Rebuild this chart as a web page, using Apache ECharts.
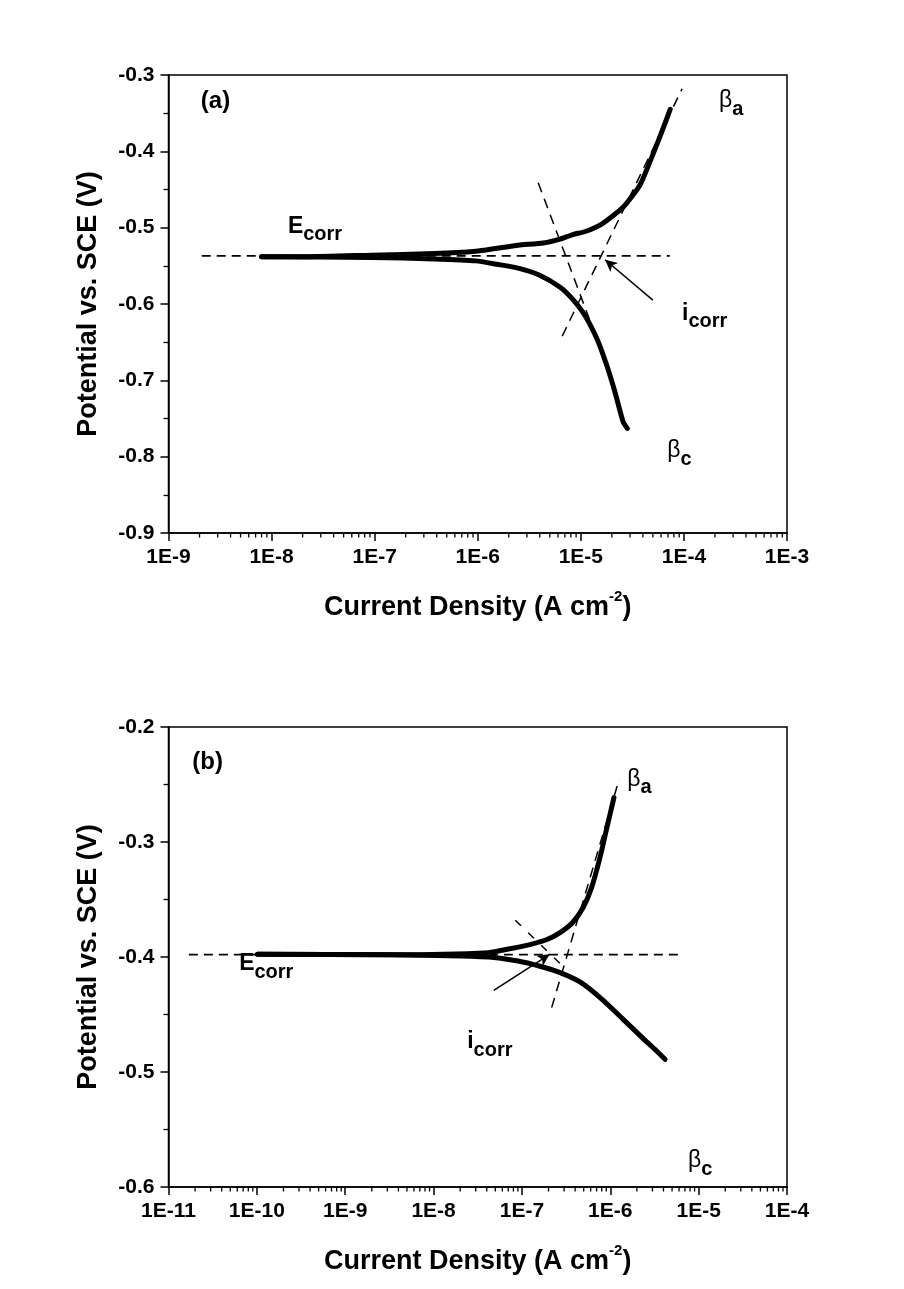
<!DOCTYPE html>
<html><head><meta charset="utf-8">
<script src="https://cdn.jsdelivr.net/npm/echarts@6/dist/echarts.min.js"></script>
<style>html,body{margin:0;padding:0;background:#fff}#c{width:904px;height:1289px}</style>
</head><body><div id="c"></div>
<script>
// ---------- Panel (a) data ----------
const aAnodicI = [8.0e-9, 2.25e-8, 9.2e-8, 3.77e-7, 9.6e-7, 1.54e-6, 2.47e-6, 4.33e-6, 6.3e-6, 8.36e-6, 1.107e-5, 1.61e-5, 2.58e-5, 3.75e-5, 4.97e-5, 6.28e-5, 7.36e-5];
const aAnodicV = [-0.538, -0.538, -0.536, -0.534, -0.531, -0.527, -0.523, -0.520, -0.515, -0.509, -0.505, -0.495, -0.473, -0.444, -0.405, -0.370, -0.345];
const aCathI = [8.0e-9, 9.2e-8, 3.77e-7, 9.6e-7, 1.54e-6, 2.47e-6, 3.94e-6, 6.3e-6, 8.36e-6, 1.107e-5, 1.46e-5, 1.77e-5, 2.14e-5, 2.58e-5, 2.83e-5];
const aCathV = [-0.538, -0.539, -0.541, -0.5435, -0.548, -0.553, -0.562, -0.578, -0.594, -0.616, -0.648, -0.679, -0.715, -0.755, -0.763];
const aEcorrI = [2.1e-9, 7.3e-5];
const aEcorrV = [-0.537, -0.537];
const aTafelCI = [3.86e-6, 1.27e-5];
const aTafelCV = [-0.4413, -0.6273];
const aTafelAI = [6.6e-6, 9.6e-5];
const aTafelAV = [-0.642, -0.318];
const aArrowI = [5.0e-5, 1.72e-5];   // tail -> head
const aArrowV = [-0.595, -0.542];
const aTicks = [1e-9, 1e-8, 1e-7, 1e-6, 1e-5, 1e-4, 1e-3];
const aYTicks = [-0.9, -0.8, -0.7, -0.6, -0.5, -0.4, -0.3];
const aLabelText = ['(a)', 'beta_a', 'E_corr', 'i_corr', 'beta_c'];
const aLabelI = [2.06e-9, 2.19e-4, 1.44e-8, 9.6e-5, 6.9e-5];
const aLabelV = [-0.334, -0.338, -0.503, -0.617, -0.797];

// ---------- Panel (b) data ----------
const bAnodicI = [1.02e-10, 3.4e-9, 4.2e-8, 7.3e-8, 1.26e-7, 1.95e-7, 2.7e-7, 3.75e-7, 4.93e-7, 6.14e-7, 7.64e-7, 9.0e-7, 1.1e-6];
const bAnodicV = [-0.3977, -0.398, -0.3962, -0.3928, -0.389, -0.3846, -0.3788, -0.370, -0.357, -0.3397, -0.3136, -0.290, -0.2614];
const bCathI = [1.02e-10, 3.4e-9, 4.2e-8, 9.0e-8, 1.56e-7, 2.7e-7, 4.68e-7, 8.07e-7, 1.40e-6, 2.41e-6, 3.35e-6, 4.17e-6];
const bCathV = [-0.3977, -0.398, -0.400, -0.4035, -0.4078, -0.4136, -0.4223, -0.4368, -0.4542, -0.4716, -0.4817, -0.489];
const bEcorrI = [1.7e-11, 6.1e-6];
const bEcorrV = [-0.398, -0.398];
const bTafelAI = [2.17e-7, 1.26e-6];
const bTafelAV = [-0.444, -0.2455];
const bTafelCI = [8.4e-8, 3.0e-7];
const bTafelCV = [-0.368, -0.409];
const bArrowI = [4.8e-8, 2.06e-7];
const bArrowV = [-0.429, -0.3977];
const bTicks = [1e-11, 1e-10, 1e-9, 1e-8, 1e-7, 1e-6, 1e-5, 1e-4];
const bYTicks = [-0.6, -0.5, -0.4, -0.3, -0.2];
const bLabelText = ['(b)', 'beta_a', 'E_corr', 'i_corr', 'beta_c'];
const bLabelI = [1.86e-11, 1.56e-6, 6.3e-11, 2.4e-8, 7.6e-6];
const bLabelV = [-0.231, -0.2484, -0.409, -0.477, -0.580];

const xName = 'Current Density (A cm';
const xNameSup = '-2';
const yName = 'Potential vs. SCE (V)';

// ---------- helpers ----------
const FF = "'Liberation Sans', Arial, Helvetica, sans-serif";
const zip = (xs, ys) => xs.map((x, i) => [x, ys[i]]);
function minorTicks(ticks) {
  const out = [];
  for (let i = 0; i < ticks.length - 1; i++) for (let k = 2; k <= 9; k++) out.push(ticks[i] * k);
  return out;
}
function labelFmt(t) {
  if (t === 'E_corr') return '{bm|E}{bs|corr}';
  if (t === 'i_corr') return '{bm|i}{bs|corr}';
  if (t === 'beta_a') return '{gm|β}{gs|a}';
  if (t === 'beta_c') return '{gm|β}{gs|c}';
  return '{p|' + t + '}';
}
const richLabels = {
  p: {fontSize: 24, fontWeight: 'bold', fontFamily: FF, color: '#000', opacity: 1},
  bm: {fontSize: 23, fontWeight: 'bold', fontFamily: FF, color: '#000', opacity: 1, lineHeight: 23, verticalAlign: 'top'},
  bs: {fontSize: 20, fontWeight: 'bold', fontFamily: FF, color: '#000', opacity: 1, lineHeight: 30, verticalAlign: 'bottom'},
  gm: {fontSize: 23, fontFamily: FF, color: '#000', opacity: 1, lineHeight: 23, verticalAlign: 'top'},
  gs: {fontSize: 20, fontWeight: 'bold', fontFamily: FF, color: '#000', opacity: 1, lineHeight: 30, verticalAlign: 'bottom'}
};

function xAxisOpt(gi, ticks) {
  return {
    type: 'log', logBase: 10, gridIndex: gi,
    min: ticks[0], max: ticks[ticks.length - 1], interval: 1,
    name: '{n|' + xName + '}{s|' + xNameSup + '}{n|)}',
    nameLocation: 'middle', nameGap: 56,
    nameTextStyle: {color: '#000', rich: {
      n: {fontSize: 27, fontWeight: 'bold', fontFamily: FF, color: '#000', lineHeight: 32, verticalAlign: 'bottom'},
      s: {fontSize: 15, fontWeight: 'bold', fontFamily: FF, color: '#000', lineHeight: 14, verticalAlign: 'top'}
    }},
    axisLine: {onZero: false, lineStyle: {color: '#000', width: 1.5}},
    axisTick: {length: 8, lineStyle: {color: '#000', width: 1.5}},
    minorTick: {show: false},
    splitLine: {show: false},
    axisLabel: {fontSize: 21, fontWeight: 'bold', fontFamily: FF, color: '#000', margin: 14,
      formatter: v => '1E' + Math.round(Math.log10(v))}
  };
}
function yAxisOpt(gi, ticks) {
  return {
    type: 'value', gridIndex: gi,
    min: ticks[0], max: ticks[ticks.length - 1], interval: 0.1,
    name: yName, nameLocation: 'middle', nameGap: 66,
    nameTextStyle: {fontSize: 27, fontWeight: 'bold', fontFamily: FF, color: '#000'},
    axisLine: {onZero: false, lineStyle: {color: '#000', width: 1.5}},
    axisTick: {length: 8, lineStyle: {color: '#000', width: 1.5}},
    minorTick: {show: true, splitNumber: 2, length: 5, lineStyle: {color: '#000', width: 1.3}},
    splitLine: {show: false},
    axisLabel: {fontSize: 21, fontWeight: 'bold', fontFamily: FF, color: '#000', margin: 14,
      formatter: v => v.toFixed(1)}
  };
}
function lineS(gi, data, width, dash, z) {
  return {type: 'line', xAxisIndex: gi, yAxisIndex: gi, data: data, showSymbol: false, symbol: 'none',
    silent: true, z: z || 2, animation: false,
    lineStyle: {color: '#000', width: width, type: dash || 'solid'}};
}
function curveS(gi, data) {
  const s = lineS(gi, data, 5, 'solid', 5);
  s.smooth = 0.2;
  s.lineStyle.cap = 'round';
  s.lineStyle.join = 'round';
  return s;
}
function arrowS(gi, I, V) {
  return {type: 'line', xAxisIndex: gi, yAxisIndex: gi, data: [], silent: true, animation: false,
    markLine: {silent: true, animation: false, symbol: ['none', 'arrow'], symbolSize: [9, 12],
      label: {show: false}, lineStyle: {color: '#000', width: 1.5, type: 'solid'},
      data: [[{coord: [I[0], V[0]]}, {coord: [I[1], V[1]]}]]}};
}
function minorS(gi, ticks, ymin) {
  return {type: 'custom', xAxisIndex: gi, yAxisIndex: gi, clip: false, silent: true, animation: false, z: 10,
    data: minorTicks(ticks).map(v => [v, ymin]),
    renderItem: (params, api) => {
      const p = api.coord([api.value(0), api.value(1)]);
      return {type: 'line', shape: {x1: p[0], y1: p[1], x2: p[0], y2: p[1] + 4.5},
        style: {stroke: '#000', lineWidth: 1.3}};
    }};
}
function labelS(gi, texts, I, V) {
  return {type: 'custom', xAxisIndex: gi, yAxisIndex: gi, clip: false, silent: true, animation: false, z: 20,
    data: texts.map((t, i) => [I[i], V[i], i]),
    renderItem: (params, api) => {
      const p = api.coord([api.value(0), api.value(1)]);
      const t = texts[api.value(2)];
      return {type: 'text', x: p[0], y: p[1],
        style: {text: labelFmt(t), rich: richLabels, fill: '#000', align: 'left', verticalAlign: 'middle'}};
    }};
}

const chart = echarts.init(document.getElementById('c'), null, {renderer: 'canvas'});
chart.setOption({
  backgroundColor: '#ffffff',
  animation: false,
  grid: [
    {left: 168.5, right: 117, top: 75, height: 458, show: true, borderColor: '#000', borderWidth: 1.5, backgroundColor: 'transparent'},
    {left: 168.5, right: 117, top: 727, height: 460, show: true, borderColor: '#000', borderWidth: 1.5, backgroundColor: 'transparent'}
  ],
  xAxis: [xAxisOpt(0, aTicks), xAxisOpt(1, bTicks)],
  yAxis: [yAxisOpt(0, aYTicks), yAxisOpt(1, bYTicks)],
  series: [
    lineS(0, zip(aEcorrI, aEcorrV), 1.8, [9, 6]),
    lineS(0, zip(aTafelCI, aTafelCV), 1.5, [10, 7]),
    lineS(0, zip(aTafelAI, aTafelAV), 1.5, [10, 7]),
    curveS(0, zip(aAnodicI, aAnodicV)),
    curveS(0, zip(aCathI, aCathV)),
    arrowS(0, aArrowI, aArrowV),
    minorS(0, aTicks, aYTicks[0]),
    labelS(0, aLabelText, aLabelI, aLabelV),

    lineS(1, zip(bEcorrI, bEcorrV), 1.8, [9, 6]),
    lineS(1, zip(bTafelAI, bTafelAV), 1.5, [10, 7]),
    lineS(1, zip(bTafelCI, bTafelCV), 1.5, [8, 10]),
    curveS(1, zip(bAnodicI, bAnodicV)),
    curveS(1, zip(bCathI, bCathV)),
    arrowS(1, bArrowI, bArrowV),
    minorS(1, bTicks, bYTicks[0]),
    labelS(1, bLabelText, bLabelI, bLabelV)
  ]
});
</script>
</body></html>
